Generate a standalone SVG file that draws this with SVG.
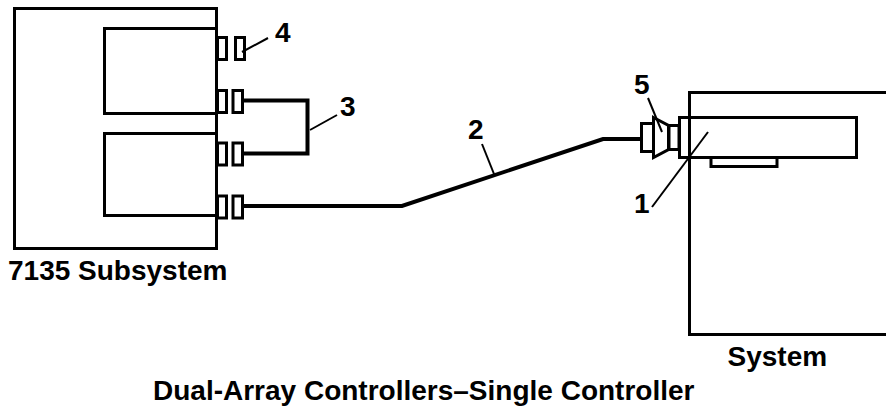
<svg xmlns="http://www.w3.org/2000/svg" width="886" height="409" viewBox="0 0 886 409">
<style>
.s{fill:none;stroke:#000;stroke-width:3}
.p{fill:#fff;stroke:#000;stroke-width:3}
.c{fill:none;stroke:#000;stroke-width:4}
.l{fill:none;stroke:#000;stroke-width:2}
text{font-family:"Liberation Sans",Arial,sans-serif;font-weight:bold;font-size:28px;fill:#000}
</style>
<rect width="886" height="409" fill="#fff"/>
<g id="subsystem">
<rect class="s" x="14.5" y="8.5" width="202" height="240"/>
<rect class="s" x="104.5" y="28.5" width="112" height="85"/>
<rect class="s" x="104.5" y="133.5" width="112" height="82"/>
<text x="8" y="280">7135 Subsystem</text>
</g>
<g id="ports">
<rect class="p" x="217.5" y="37.5" width="9" height="22"/>
<rect class="p" x="235.5" y="37.5" width="9" height="22"/>
<rect class="p" x="217.5" y="90.5" width="9" height="22"/>
<rect class="p" x="233" y="90.5" width="9.500" height="22"/>
<rect class="p" x="217.500" y="143" width="9" height="22"/>
<rect class="p" x="233" y="143" width="9.500" height="22"/>
<rect class="p" x="217.500" y="196" width="9" height="22"/>
<rect class="p" x="233" y="196" width="9.500" height="22"/>
</g>
<g id="system">
<path class="s" d="M886 92.500H689.500V334.500H886"/>
<text x="727.500" y="366">System</text>
</g>
<g id="controller">
<rect class="s" x="679.500" y="117.500" width="177" height="40"/>
<path class="s" d="M711 158V166.500H777V158"/>
</g>
<g id="connector-5">
<rect class="p" x="641.500" y="123.500" width="12" height="28"/>
<path class="p" d="M653.500 117.500L668.500 125.500V149.500L653.500 157.500Z"/>
<rect class="p" x="669" y="125.500" width="10" height="24"/>
</g>
<g id="connectors">
<path class="c" d="M243 100.500H307.500V153.500H243"/>
<path class="c" d="M243 206H402L603 139H641"/>
<path class="l" d="M242 52L268 38"/>
<path class="l" d="M310 130L337 115"/>
<path class="l" d="M482 144L494 174"/>
<path class="l" d="M648 98L662 132"/>
<path class="l" d="M652 207L708 132"/>
</g>
<g id="labels">
<text x="275" y="42">4</text>
<text x="340" y="116">3</text>
<text x="468" y="139">2</text>
<text x="634" y="94">5</text>
<text x="634" y="213">1</text>
<text x="153" y="400">Dual-Array Controllers–Single Controller</text>
</g>
</svg>
